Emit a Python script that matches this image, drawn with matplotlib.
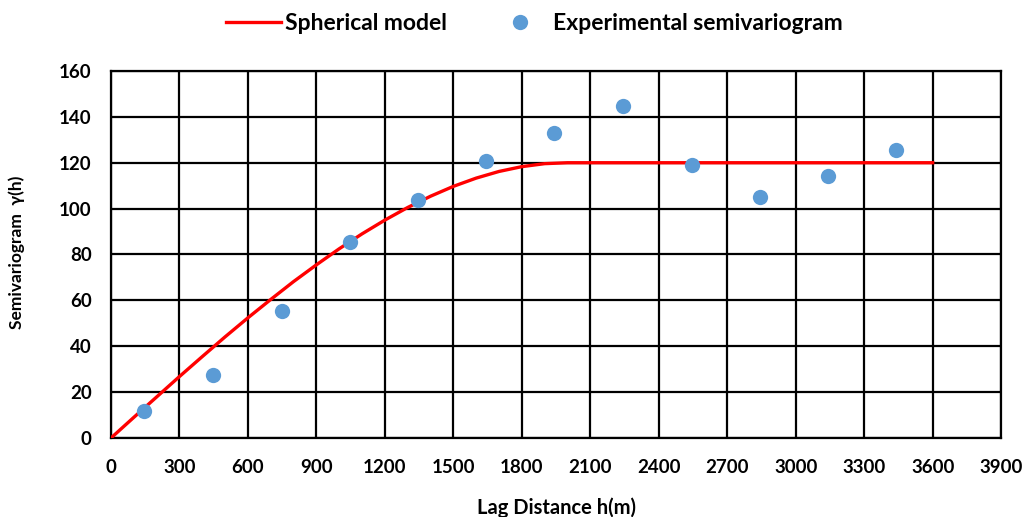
import matplotlib
matplotlib.use("Agg")
import matplotlib.pyplot as plt
from matplotlib.ticker import MultipleLocator

plt.rcParams['font.family'] = ['Lato', 'DejaVu Sans']
plt.rcParams['font.weight'] = 'bold'

# Experimental semivariogram
lag = [145, 445, 750, 1048, 1346, 1645, 1943, 2245, 2544, 2842, 3140, 3438]
gamma_exp = [11.8, 27.5, 55.4, 85.4, 103.7, 120.7, 133.0, 144.7, 119.0, 105.0, 114.2, 125.5]

# Spherical model curve
model_h = [0, 100, 200, 300, 400, 500, 600, 700, 800, 900, 1000, 1100, 1200,
           1300, 1400, 1500, 1600, 1700, 1800, 1900, 2000, 3600]
model_g = [0, 9.0, 17.9, 26.8, 35.5, 44.1, 52.4, 60.4, 68.2, 75.5, 82.5, 89.0,
           95.0, 100.5, 105.4, 109.7, 113.3, 116.2, 118.3, 119.6, 120.0, 120.0]

fig = plt.figure(figsize=(10.22, 5.17), dpi=100)
ax = fig.add_axes([0.1086, 0.1528, 0.871, 0.7099])

ax.plot(model_h, model_g, color='#FF0000', lw=2.4, label='Spherical model', zorder=3)
ax.plot(lag, gamma_exp, 'o', color='#5B9BD5', markersize=11, markeredgewidth=0,
        label='Experimental semivariogram', zorder=4)

ax.set_xlim(0, 3900)
ax.set_ylim(0, 160)
ax.xaxis.set_major_locator(MultipleLocator(300))
ax.yaxis.set_major_locator(MultipleLocator(20))
ax.grid(True, color='black', lw=1.6)
ax.set_axisbelow(True)
for s in ax.spines.values():
    s.set_color('black')
    s.set_linewidth(1.6)
ax.tick_params(length=0, labelsize=13.5)
ax.tick_params(axis='x', pad=15)
ax.tick_params(axis='y', pad=14)
for lbl in ax.get_xticklabels() + ax.get_yticklabels():
    lbl.set_fontweight('bold')

ax.set_xlabel('Lag Distance h(m)', fontsize=14.5, fontweight='bold')
ax.set_ylabel('Semivariogram  γ(h)', fontsize=12.5, fontweight='bold')
ax.xaxis.set_label_coords(0.5, -0.161)
ax.yaxis.set_label_coords(-0.0966, 0.507)

leg = fig.legend(loc='center', bbox_to_anchor=(0.5225, 0.954), ncol=2, frameon=False,
                 fontsize=16.5, handlelength=2.4, columnspacing=2.0, handletextpad=0.2,
                 markerscale=1.0)
for t in leg.get_texts():
    t.set_fontweight('bold')

fig.savefig('out.png', dpi=100)
